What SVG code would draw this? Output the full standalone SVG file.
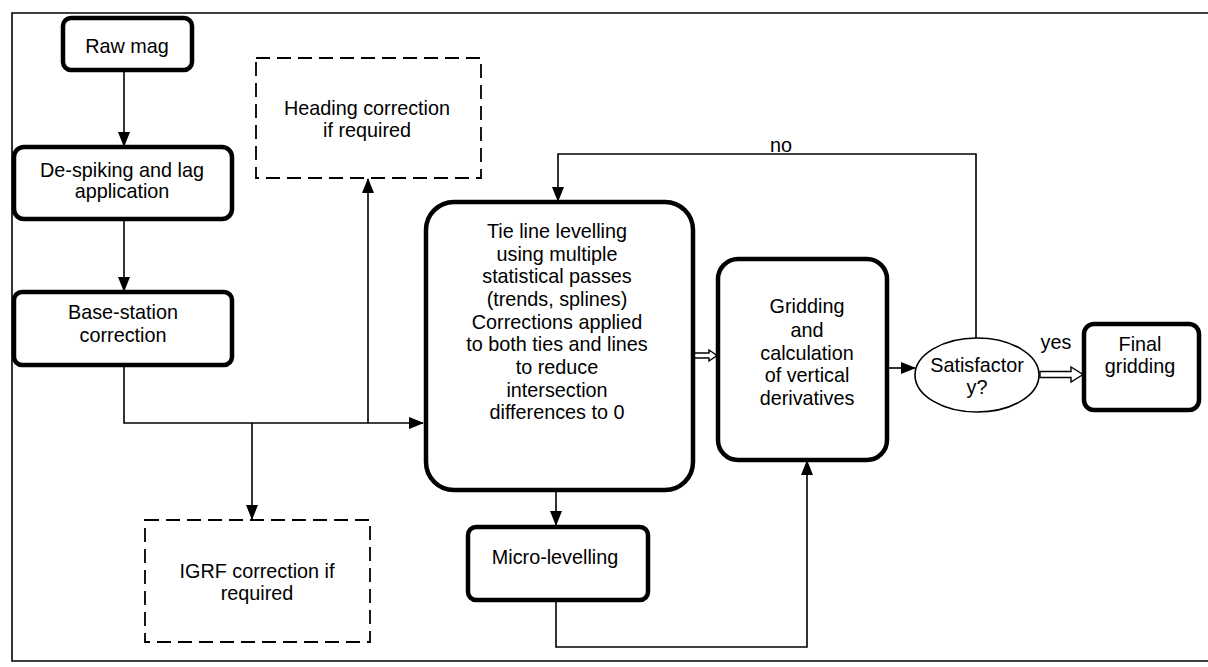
<svg xmlns="http://www.w3.org/2000/svg" width="1208" height="667" viewBox="0 0 1208 667">
<defs>
<marker id="ah" markerWidth="15" markerHeight="12" refX="14" refY="6" orient="auto" markerUnits="userSpaceOnUse">
<path d="M0,0 L15,6 L0,12 Z" fill="#000"/>
</marker>
<style>
.box{fill:#fff;stroke:#000;stroke-width:4.5}
.dash{fill:#fff;stroke:#000;stroke-width:1.8;stroke-dasharray:14,7}
.ln{fill:none;stroke:#000;stroke-width:1.6}
.hol{fill:#fff;stroke:#000;stroke-width:1.4}
text{font-family:"Liberation Sans",Arial,sans-serif;font-size:19.8px;fill:#000;text-anchor:middle}
</style>
</defs>
<rect width="1208" height="667" fill="#fff"/>
<g id="frame"><path class="ln" d="M1208,13 L12,13 L12,661 L1208,661" stroke-width="2"/></g>
<g id="connectors">
<path class="ln" d="M124,70 L124,146" marker-end="url(#ah)"/>
<path class="ln" d="M124,219 L124,291" marker-end="url(#ah)"/>
<path class="ln" d="M124,365 L124,423 L423,423" marker-end="url(#ah)"/>
<path class="ln" d="M368,423 L368,179" marker-end="url(#ah)"/>
<path class="ln" d="M252,423 L252,519" marker-end="url(#ah)"/>
<path class="ln" d="M556,490 L556,525" marker-end="url(#ah)"/>
<path class="ln" d="M556,600 L556,647 L807,647 L807,461" marker-end="url(#ah)"/>
<path class="ln" d="M887,368 L915,368" marker-end="url(#ah)"/>
<path class="ln" d="M976,338 L976,154 L558,154 L558,201" marker-end="url(#ah)"/>
<path class="hol" d="M693,353 L709,353 L709,350 L717,355.5 L709,361 L709,358 L693,358 Z"/>
<path class="hol" d="M1040,371.5 L1071,371.5 L1071,367 L1083,374.5 L1071,382 L1071,377.5 L1040,377.5 Z"/>
<text x="781" y="152">no</text>
<text x="1056" y="349">yes</text>
</g>
<g id="raw"><rect class="box" x="63" y="18" width="129" height="52" rx="8"/><text x="127" y="53">Raw mag</text></g>
<g id="despike"><rect class="box" x="14" y="147" width="218" height="72" rx="10"/><text x="122" y="177">De-spiking and lag</text><text x="122" y="198">application</text></g>
<g id="heading"><rect class="dash" x="256" y="58" width="225" height="120"/><text x="367" y="115">Heading correction</text><text x="367" y="137">if required</text></g>
<g id="base"><rect class="box" x="14" y="292" width="218" height="73" rx="8"/><text x="123" y="319">Base-station</text><text x="123" y="342">correction</text></g>
<g id="igrf"><rect class="dash" x="145" y="520" width="225" height="122"/><text x="257" y="578">IGRF correction if</text><text x="257" y="600">required</text></g>
<g id="tie"><rect class="box" x="426" y="202" width="267" height="288" rx="28"/>
<text x="557" y="238">Tie line levelling</text>
<text x="557" y="261">using multiple</text>
<text x="557" y="283">statistical passes</text>
<text x="557" y="306">(trends, splines)</text>
<text x="557" y="329">Corrections applied</text>
<text x="557" y="351">to both ties and lines</text>
<text x="557" y="374">to reduce</text>
<text x="557" y="397">intersection</text>
<text x="557" y="419">differences to 0</text></g>
<g id="micro"><rect class="box" x="468" y="527" width="180" height="73" rx="8"/><text x="555" y="564">Micro-levelling</text></g>
<g id="grid"><rect class="box" x="718" y="259" width="169" height="201" rx="20"/>
<text x="807" y="313">Gridding</text><text x="807" y="337">and</text><text x="807" y="360">calculation</text><text x="807" y="382">of vertical</text><text x="807" y="405">derivatives</text></g>
<g id="sat"><ellipse cx="977" cy="375" rx="62" ry="37" fill="#fff" stroke="#000" stroke-width="1.6"/><text x="977" y="372">Satisfactor</text><text x="977" y="394">y?</text></g>
<g id="final"><rect class="box" x="1084" y="324" width="115" height="86" rx="10"/><text x="1140" y="351">Final</text><text x="1140" y="373">gridding</text></g>
</svg>
